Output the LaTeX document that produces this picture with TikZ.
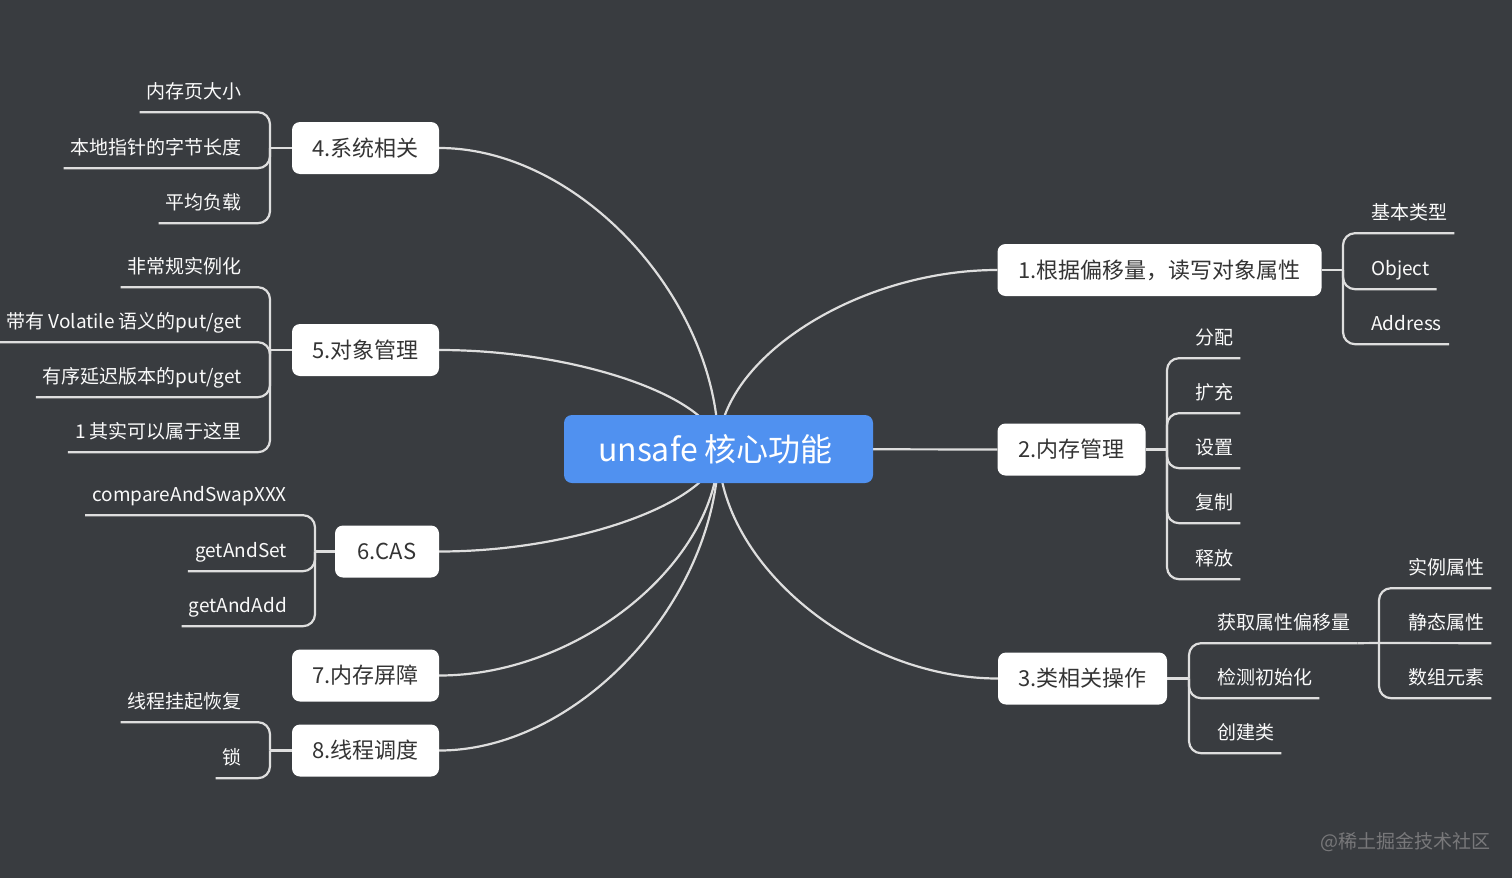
\documentclass[tikz,border=0pt]{standalone}
\usepackage{fontspec}
\setmainfont{Noto Sans CJK SC}
\definecolor{bgc}{RGB}{57,60,64}
\definecolor{centc}{RGB}{80,145,240}
\definecolor{linec}{RGB}{222,222,222}
\definecolor{boxtxt}{RGB}{52,52,52}
\definecolor{leaftxt}{RGB}{250,250,250}
\definecolor{wmc}{RGB}{120,120,122}
\pgfdeclarelayer{bg}
\pgfdeclarelayer{edges}
\pgfsetlayers{bg,edges,main}
\tikzset{
  central/.style={rectangle, rounded corners=8, fill=centc, text=white, minimum width=309, minimum height=68, inner sep=0, font=\fontsize{32}{36}\selectfont},
  topic/.style={rectangle, rounded corners=8, fill=white, text=boxtxt, minimum height=52, inner sep=0, font=\fontsize{22}{26}\selectfont},
  leaf/.style={inner xsep=7, inner ysep=0, minimum height=42, text height=14, text depth=0, text=leaftxt, font=\fontsize{19}{22}\selectfont},
  leafL/.style={leaf, anchor=east},
  leafR/.style={leaf, anchor=west},
  conn/.style={draw=linec, line width=2.2},
  br/.style={conn, rounded corners=12},
}
\begin{document}
\begin{tikzpicture}[x=1pt,y=-1pt]
\useasboundingbox (0,0) rectangle (1512,878);
\begin{pgfonlayer}{bg}
\fill[bgc] (0,0) rectangle (1512,878);
\end{pgfonlayer}

% central and main topics
\node[central] (c) at (718.5,449) {\hspace*{-6pt}unsafe 核心功能};
\node[topic, minimum width=147] (t4) at (365.5,148) {4.系统相关};
\node[topic, minimum width=147] (t5) at (365.5,350) {5.对象管理};
\node[topic, minimum width=104] (t6) at (387,551.5) {6.CAS};
\node[topic, minimum width=147] (t7) at (365.5,675.5) {7.内存屏障};
\node[topic, minimum width=147] (t8) at (365.5,750.5) {8.线程调度};
\node[topic, minimum width=324] (t1) at (1159.5,270) {1.根据偏移量，读写对象属性};
\node[topic, minimum width=148] (t2) at (1071.5,449.5) {2.内存管理};
\node[topic, minimum width=169] (t3) at (1082.5,678.5) {3.类相关操作};

% junctions
\coordinate (j4) at (270,148);
\coordinate (j5) at (270,350);
\coordinate (j6) at (315,551.5);
\coordinate (j8) at (270,750.5);
\coordinate (j1) at (1343,270);
\coordinate (j2) at (1167,449.5);
\coordinate (j3) at (1189,678.5);
\coordinate (j31) at (1379,643);

% leaves left
\node[leafL] (l41) at (249,91) {内存页大小};
\node[leafL] (l42) at (249,147) {本地指针的字节长度};
\node[leafL] (l43) at (249,202) {平均负载};
\node[leafL] (l51) at (249,266) {非常规实例化};
\node[leafL] (l52) at (249,321) {带有 Volatile 语义的put/get};
\node[leafL] (l53) at (249,376) {有序延迟版本的put/get};
\node[leafL] (l54) at (249,431) {1 其实可以属于这里};
\node[leafL] (l61) at (294,494) {compareAndSwapXXX};
\node[leafL] (l62) at (294,550) {getAndSet};
\node[leafL] (l63) at (294,605) {getAndAdd};
\node[leafL] (l81) at (249,701) {线程挂起恢复};
\node[leafL] (l82) at (249,757) {锁};
% leaves right
\node[leafR] (l11) at (1364,212) {基本类型};
\node[leafR] (l12) at (1364,268) {Object};
\node[leafR] (l13) at (1364,323) {Address};
\node[leafR] (l21) at (1188,337) {分配};
\node[leafR] (l22) at (1188,392) {扩充};
\node[leafR] (l23) at (1188,447) {设置};
\node[leafR] (l24) at (1188,502) {复制};
\node[leafR] (l25) at (1188,558) {释放};
\node[leafR] (l31) at (1210,622) {获取属性偏移量};
\node[leafR] (l32) at (1210,677) {检测初始化};
\node[leafR] (l33) at (1210,732) {创建类};
\node[leafR] (l311) at (1401,567) {实例属性};
\node[leafR] (l312) at (1401,622) {静态属性};
\node[leafR] (l313) at (1401,677) {数组元素};

\node[text=wmc, inner sep=0, font=\fontsize{19}{22}\selectfont] (wm) at (1405,842) {@稀土掘金技术社区};

\begin{pgfonlayer}{edges}
% main curves
\draw[conn] (c.center) .. controls +(0,-150) and +(140,0) .. (t4.east);
\draw[conn] (c.center) .. controls +(0,-50) and +(140,0) .. (t5.east);
\draw[conn] (c.center) .. controls +(0,51) and +(140,0) .. (t6.east);
\draw[conn] (c.center) .. controls +(0,113) and +(140,0) .. (t7.east);
\draw[conn] (c.center) .. controls +(0,150) and +(140,0) .. (t8.east);
\draw[conn] (c.center) .. controls +(0,-90) and +(-140,0) .. (t1.west);
\draw[conn] (c.center) -- (t2.west);
\draw[conn] (c.center) .. controls +(0,115) and +(-140,0) .. (t3.west);
% stubs
\draw[conn] (t4.west) -- (j4);
\draw[conn] (t5.west) -- (j5);
\draw[conn] (t6.west) -- (j6);
\draw[conn] (t8.west) -- (j8);
\draw[conn] (t1.east) -- (j1);
\draw[conn] (t2.east) -- (j2);
\draw[conn] (t3.east) -- (j3);
% brackets left
\draw[br] (j4) |- (l41.south west);
\draw[br] (j4) |- (l42.south west);
\draw[br] (j4) |- (l43.south west);
\draw[br] (j5) |- (l51.south west);
\draw[br] (j5) |- (l52.south west);
\draw[br] (j5) |- (l53.south west);
\draw[br] (j5) |- (l54.south west);
\draw[br] (j6) |- (l61.south west);
\draw[br] (j6) |- (l62.south west);
\draw[br] (j6) |- (l63.south west);
\draw[br] (j8) |- (l81.south west);
\draw[br] (j8) |- (l82.south west);
% brackets right
\draw[br] (j1) |- (l11.south east);
\draw[br] (j1) |- (l12.south east);
\draw[br] (j1) |- (l13.south east);
\draw[br] (j2) |- (l21.south east);
\draw[br] (j2) |- (l22.south east);
\draw[br] (j2) |- (l23.south east);
\draw[br] (j2) |- (l24.south east);
\draw[br] (j2) |- (l25.south east);
\draw[br] (j3) |- (l31.south east);
\draw[br] (j3) |- (l32.south east);
\draw[br] (j3) |- (l33.south east);
\draw[conn] (l31.south east) -- (j31);
\draw[br] (j31) |- (l311.south east);
\draw[conn] (j31) -- (l312.south east);
\draw[br] (j31) |- (l313.south east);
\end{pgfonlayer}
\end{tikzpicture}
\end{document}
